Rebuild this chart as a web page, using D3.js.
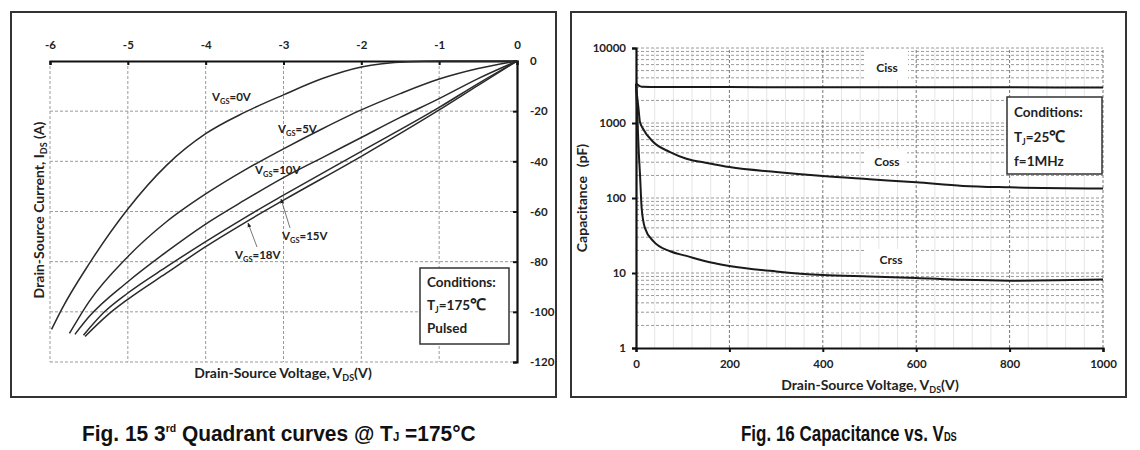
<!DOCTYPE html>
<html>
<head>
<meta charset="utf-8">
<script src="https://cdn.jsdelivr.net/npm/d3@7"></script>
<style>
  body { margin: 0; background: #fff; }
  svg { display: block; }
  text { font-family: Lato, "Liberation Sans", sans-serif; font-weight: bold; fill: #222; }
  .cap { font-family: "Liberation Sans", sans-serif; font-weight: bold; fill: #111; }
</style>
</head>
<body>
<svg id="chart" width="1140" height="450"></svg>
<script>
// ---------- Fig. 15 data (3rd quadrant) ----------
const xTicksQ = [-6, -5, -4, -3, -2, -1, 0];
const yTicksQ = [0, -20, -40, -60, -80, -100, -120];
const vgs0_v  = [0, -0.5, -1, -1.4, -2, -2.5, -3, -3.5, -4, -4.5, -5, -5.5, -5.85, -5.98];
const vgs0_i  = [0, 0, 0, -0.3, -2.4, -7, -13.5, -20.5, -29, -41.5, -59, -81, -99, -107];
const vgs5_v  = [0, -0.5, -1, -1.5, -2, -2.5, -3, -3.5, -4, -4.5, -5, -5.5, -5.75];
const vgs5_i  = [0, -3, -7.2, -13, -19.5, -27, -35, -43.5, -53, -64, -78, -96, -108.6];
const vgs10_v = [0, -0.5, -1, -1.5, -2, -2.5, -3, -3.5, -4, -4.5, -5, -5.5, -5.68];
const vgs10_i = [0, -7, -15, -22.5, -30.5, -38.5, -46.5, -55.5, -65, -76, -88, -102, -109];
const vgs15_v = [0, -0.5, -1, -2, -3, -3.5, -4, -4.5, -5, -5.3, -5.57];
const vgs15_i = [0, -9, -18.5, -36, -53.5, -62.5, -72, -82, -92.5, -100, -109.3];
const vgs18_v = [0, -0.5, -1, -2, -3, -3.5, -4, -4.5, -5, -5.25, -5.55];
const vgs18_i = [0, -9.7, -19.5, -38, -55.5, -64.5, -74, -84.5, -95, -101, -109.8];

// ---------- Fig. 16 data (capacitance) ----------
const xTicksC = [0, 200, 400, 600, 800, 1000];
const yTicksC = [1, 10, 100, 1000, 10000];
const ciss_v = [0, 3, 8, 15, 50, 200, 400, 600, 800, 1000];
const ciss_c = [3400, 3250, 3100, 3040, 3020, 3010, 3000, 3000, 2990, 2980];
const coss_v = [0, 2, 5, 8.5, 15, 37, 73, 108, 155, 200, 300, 400, 500, 600, 700, 800, 1000];
const coss_c = [3300, 2400, 1640, 1030, 840, 557, 409, 334, 291, 259, 222, 196, 178, 162, 145, 139, 134];
const crss_v = [0, 2, 4, 6, 8.5, 12, 19, 37, 73, 108, 158, 200, 300, 400, 500, 600, 700, 800, 900, 1000];
const crss_c = [3300, 1800, 800, 400, 210, 75, 40, 26.6, 19.5, 16.9, 13.9, 12.4, 10.5, 9.4, 9.0, 8.6, 8.1, 7.9, 8.0, 8.2];

const svg = d3.select("#chart");
const GRID = "#9a9a9a";
const fmt = d => String(d);   // plain hyphen-minus like the reference

svg.append("defs").append("marker")
  .attr("id", "arr").attr("viewBox", "0 0 10 10").attr("refX", 9).attr("refY", 5)
  .attr("markerWidth", 6).attr("markerHeight", 6).attr("orient", "auto")
  .append("path").attr("d", "M0,1 L10,5 L0,9 Z").attr("fill", "#222");

// frames
svg.append("rect").attr("x", 11).attr("y", 12).attr("width", 545).attr("height", 385)
  .attr("fill", "none").attr("stroke", "#333").attr("stroke-width", 2);
svg.append("rect").attr("x", 571).attr("y", 12).attr("width", 555).attr("height", 385)
  .attr("fill", "none").attr("stroke", "#333").attr("stroke-width", 2);

function subText(g, x, y, main, sub, rest, size) {
  const t = g.append("text").attr("x", x).attr("y", y).attr("font-size", size);
  t.append("tspan").text(main);
  t.append("tspan").text(sub).attr("font-size", size * 0.65).attr("dy", size * 0.25);
  t.append("tspan").text(rest).attr("dy", -size * 0.25);
  return t;
}
function styleAxis(a) {
  a.select(".domain").attr("stroke", "#111").attr("stroke-width", 2.2);
  a.selectAll(".tick line").attr("stroke", "#111").attr("stroke-width", 2);
  a.selectAll("text").attr("font-family", "Lato").attr("font-weight", "bold")
    .attr("font-size", 11.5).attr("fill", "#222");
}

// =================== Left chart ===================
{
  const g = svg.append("g");
  const x = d3.scaleLinear().domain([-6, 0]).range([50, 517]);
  const y = d3.scaleLinear().domain([0, -120]).range([61, 362]);

  g.append("g").selectAll("line").data(xTicksQ.filter(d => d !== 0)).join("line")
    .attr("x1", d => x(d)).attr("x2", d => x(d)).attr("y1", y(0)).attr("y2", y(-120))
    .attr("stroke", GRID).attr("stroke-dasharray", "3,2");
  g.append("g").selectAll("line").data(yTicksQ.filter(d => d !== 0)).join("line")
    .attr("x1", x(-6)).attr("x2", x(0)).attr("y1", d => y(d)).attr("y2", d => y(d))
    .attr("stroke", GRID).attr("stroke-dasharray", "3,2");

  const ax = g.append("g").attr("transform", `translate(0,${y(0)})`)
    .call(d3.axisTop(x).tickValues(xTicksQ).tickSize(-4).tickPadding(12).tickFormat(fmt));
  const ay = g.append("g").attr("transform", `translate(${x(0)},0)`)
    .call(d3.axisRight(y).tickValues(yTicksQ).tickSize(-4).tickPadding(13).tickFormat(fmt));
  styleAxis(ax); styleAxis(ay);

  const line = d3.line().x(d => x(d[0])).y(d => y(d[1])).curve(d3.curveMonotoneX);
  const series = [[vgs0_v, vgs0_i], [vgs5_v, vgs5_i], [vgs10_v, vgs10_i], [vgs15_v, vgs15_i], [vgs18_v, vgs18_i]];
  series.forEach(([vs, is]) => {
    const pts = vs.map((v, k) => [v, is[k]]).sort((a, b) => a[0] - b[0]);
    g.append("path").attr("d", line(pts)).attr("fill", "none")
      .attr("stroke", "#2a2a2a").attr("stroke-width", 1.5);
  });

  subText(g, 212, 101, "V", "GS", "=0V", 11.5);
  subText(g, 278, 133, "V", "GS", "=5V", 11.5);
  subText(g, 255, 174, "V", "GS", "=10V", 11.5);
  subText(g, 282, 240, "V", "GS", "=15V", 11.5);
  subText(g, 235, 259, "V", "GS", "=18V", 11.5);
  g.append("line").attr("x1", 290).attr("y1", 228).attr("x2", 281).attr("y2", 199)
    .attr("stroke", "#555").attr("stroke-width", 0.8).attr("marker-end", "url(#arr)");
  g.append("line").attr("x1", 257).attr("y1", 247).attr("x2", 248).attr("y2", 223)
    .attr("stroke", "#555").attr("stroke-width", 0.8).attr("marker-end", "url(#arr)");

  const yt = g.append("text").attr("transform", "translate(44,210) rotate(-90)")
    .attr("text-anchor", "middle").attr("font-size", 14);
  yt.append("tspan").text("Drain-Source Current, I");
  yt.append("tspan").text("DS").attr("font-size", 9).attr("dy", 3);
  yt.append("tspan").text(" (A)").attr("dy", -3);
  const xt = g.append("text").attr("x", 283).attr("y", 378).attr("text-anchor", "middle").attr("font-size", 14);
  xt.append("tspan").text("Drain-Source Voltage, V");
  xt.append("tspan").text("DS").attr("font-size", 9).attr("dy", 3);
  xt.append("tspan").text("(V)").attr("dy", -3);

  g.append("rect").attr("x", 420).attr("y", 268).attr("width", 89).attr("height", 76)
    .attr("fill", "#fff").attr("stroke", "#333").attr("stroke-width", 1.5);
  g.append("text").attr("x", 427).attr("y", 287).attr("font-size", 13.5).text("Conditions:");
  const tj = g.append("text").attr("x", 427).attr("y", 310).attr("font-size", 13.5);
  tj.append("tspan").text("T");
  tj.append("tspan").text("J").attr("font-size", 8.5).attr("dy", 3);
  tj.append("tspan").text("=175").attr("dy", -3);
  tj.append("tspan").text("℃").attr("font-size", 16);
  g.append("text").attr("x", 427).attr("y", 333).attr("font-size", 13.5).text("Pulsed");
}

// =================== Right chart ===================
{
  const g = svg.append("g");
  const x = d3.scaleLinear().domain([0, 1000]).range([636, 1103]);
  const y = d3.scaleLog().domain([1, 10000]).range([348, 48]);

  g.append("g").selectAll("line").data(d3.range(40, 1000, 40).filter(d => d % 200 !== 0)).join("line")
    .attr("x1", d => x(d)).attr("x2", d => x(d)).attr("y1", y(1)).attr("y2", y(10000))
    .attr("stroke", "#e6e6e6").attr("stroke-width", 1);
  const minors = [];
  [1, 10, 100, 1000].forEach(dec => { for (let m = 2; m <= 10; m++) minors.push(dec * m); });
  g.append("g").selectAll("line").data(minors).join("line")
    .attr("x1", x(0)).attr("x2", x(1000)).attr("y1", d => y(d)).attr("y2", d => y(d))
    .attr("stroke", GRID).attr("stroke-dasharray", "3,2");
  g.append("g").selectAll("line").data(xTicksC.filter(d => d !== 0)).join("line")
    .attr("x1", d => x(d)).attr("x2", d => x(d)).attr("y1", y(1)).attr("y2", y(10000))
    .attr("stroke", "#777").attr("stroke-dasharray", "3,2");

  g.append("rect").attr("x", 866).attr("y", 49).attr("width", 42).attr("height", 31).attr("fill", "#fff");
  g.append("rect").attr("x", 866).attr("y", 149).attr("width", 41).attr("height", 24).attr("fill", "#fff");
  g.append("rect").attr("x", 865).attr("y", 249).attr("width", 51).attr("height", 23).attr("fill", "#fff");

  const ax = g.append("g").attr("transform", `translate(0,${y(1)})`)
    .call(d3.axisBottom(x).tickValues(xTicksC).tickSize(4).tickPadding(8).tickFormat(fmt));
  const ay = g.append("g").attr("transform", `translate(${x(0)},0)`)
    .call(d3.axisLeft(y).tickValues(yTicksC).tickSize(4).tickPadding(6).tickFormat(fmt));
  styleAxis(ax); styleAxis(ay);

  const line = d3.line().x(d => x(d[0])).y(d => y(d[1])).curve(d3.curveMonotoneX);
  [[ciss_v, ciss_c], [coss_v, coss_c], [crss_v, crss_c]].forEach(([vs, cs]) => {
    const pts = vs.map((v, k) => [v, cs[k]]);
    g.append("path").attr("d", line(pts)).attr("fill", "none")
      .attr("stroke", "#1a1a1a").attr("stroke-width", 2);
  });

  g.append("text").attr("x", 887).attr("y", 72).attr("text-anchor", "middle").attr("font-size", 12).text("Ciss");
  g.append("text").attr("x", 887).attr("y", 166).attr("text-anchor", "middle").attr("font-size", 12).text("Coss");
  g.append("text").attr("x", 891).attr("y", 264).attr("text-anchor", "middle").attr("font-size", 12).text("Crss");

  const ct = g.append("text").attr("transform", "translate(587,198) rotate(-90)")
    .attr("text-anchor", "middle").attr("font-size", 14);
  ct.append("tspan").text("Capacitance");
  ct.append("tspan").attr("dx", 9).text("(pF)");
  const xt = g.append("text").attr("x", 870).attr("y", 390).attr("text-anchor", "middle").attr("font-size", 14);
  xt.append("tspan").text("Drain-Source Voltage, V");
  xt.append("tspan").text("DS").attr("font-size", 9).attr("dy", 3);
  xt.append("tspan").text("(V)").attr("dy", -3);

  g.append("rect").attr("x", 1007).attr("y", 97).attr("width", 95).attr("height", 77)
    .attr("fill", "#fff").attr("stroke", "#333").attr("stroke-width", 1.5);
  g.append("text").attr("x", 1014).attr("y", 117).attr("font-size", 13.5).text("Conditions:");
  const tj = g.append("text").attr("x", 1014).attr("y", 142).attr("font-size", 13.5);
  tj.append("tspan").text("T");
  tj.append("tspan").text("J").attr("font-size", 8.5).attr("dy", 3);
  tj.append("tspan").text("=25").attr("dy", -3);
  tj.append("tspan").text("℃").attr("font-size", 16);
  g.append("text").attr("x", 1014).attr("y", 166).attr("font-size", 13.5).text("f=1MHz");
}

// =================== Captions (condensed to the reference widths) ===================
function caption(x0, width, build) {
  const g = svg.append("g");
  const t = g.append("text").attr("class", "cap").attr("x", 0).attr("y", 0).attr("font-size", 22);
  build(t);
  const w = t.node().getBBox().width;
  g.attr("transform", `translate(${x0},441) scale(${width / w},1)`);
}
caption(82, 394, t => {
  t.append("tspan").text("Fig. 15 3");
  t.append("tspan").text("rd").attr("font-size", 11).attr("dy", -9);
  t.append("tspan").text(" Quadrant curves @ T").attr("dy", 9);
  t.append("tspan").text("J").attr("font-size", 12);
  t.append("tspan").text(" =175°C");
});
caption(741, 216, t => {
  t.append("tspan").text("Fig. 16 Capacitance vs. V");
  t.append("tspan").text("DS").attr("font-size", 12);
});
</script>
</body>
</html>
